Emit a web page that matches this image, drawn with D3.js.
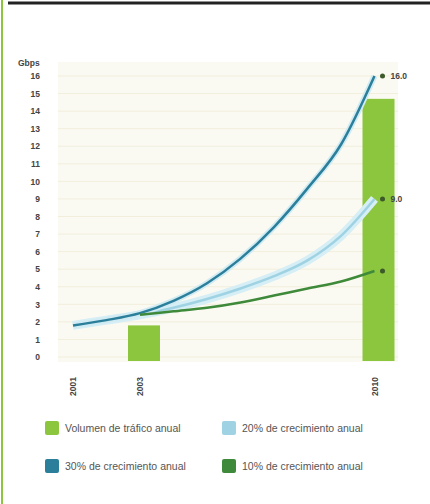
<!DOCTYPE html>
<html><head><meta charset="utf-8">
<script src="https://cdn.jsdelivr.net/npm/d3@7"></script>
<style>body{margin:0;background:#fff;}svg{display:block;font-family:"Liberation Sans",Arial,sans-serif;}</style>
</head><body>
<script>
const yTicks = [0,1,2,3,4,5,6,7,8,9,10,11,12,13,14,15,16];
const xYears = [2001, 2003, 2010];
const barYears = [2003, 2010];
const barValues = [1.8, 14.7];
const years30 = [2001,2002,2003,2004,2005,2006,2007,2008,2009,2010];
const values30 = [1.8,2.1,2.5,3.2,4.2,5.6,7.4,9.6,12.1,16.0];
const years20 = [2001,2002,2003,2004,2005,2006,2007,2008,2009,2010];
const values20 = [1.8,2.1,2.4,2.8,3.3,3.9,4.6,5.5,6.9,9.0];
const years10 = [2003,2004,2005,2006,2007,2008,2009,2010];
const values10 = [2.4,2.6,2.8,3.1,3.5,3.9,4.3,4.9];
const endLabels = ["16.0","9.0",""];
const legendLabels = ["Volumen de tráfico anual","20% de crecimiento anual","30% de crecimiento anual","10% de crecimiento anual"];
const unitLabel = "Gbps";

const colBar="#8cc63f", colLight="#9fd3e3", colTeal="#2b7f9a", colGreen="#3f8a3a";

const W=430,H=504;
const svg=d3.select("body").append("svg").attr("width",W).attr("height",H);
svg.append("line").attr("x1",8).attr("x2",430).attr("y1",3).attr("y2",3).attr("stroke","#222").attr("stroke-width",3);
svg.append("line").attr("x1",2).attr("x2",2).attr("y1",0).attr("y2",504).attr("stroke","#8cc63f").attr("stroke-width",2);

const x=d3.scaleLinear().domain([2001,2003]).range([73,140]);
const y=d3.scaleLinear().domain([0,16]).range([357,76]);

svg.append("rect").attr("x",58).attr("y",62).attr("width",340).attr("height",300).attr("fill","#fbfaf2");
svg.append("g").selectAll("line").data(yTicks).join("line")
 .attr("x1",58).attr("x2",398).attr("y1",d=>y(d)).attr("y2",d=>y(d)).attr("stroke","#f1eedc").attr("stroke-width",1);

const ya=d3.axisLeft(y).tickValues(yTicks).tickSize(0).tickPadding(4);
const yg=svg.append("g").attr("transform","translate(44,0)").call(ya);
yg.select(".domain").remove();
yg.selectAll("text").attr("font-size",8.5).attr("font-weight","bold").attr("fill","#444");
svg.append("text").attr("x",18).attr("y",66).attr("font-size",8.5).attr("font-weight","bold").attr("fill","#444").text(unitLabel);

const bw=32;
svg.append("g").selectAll("rect").data(barYears).join("rect")
 .attr("x",(d)=>x(d)-bw/2+4).attr("width",bw)
 .attr("y",(d,i)=>y(barValues[i])).attr("height",(d,i)=>y(0)+4-y(barValues[i])).attr("fill",colBar);

const line=d3.line().x(d=>x(d[0])).y(d=>y(d[1])).curve(d3.curveMonotoneX);
const d20=years20.map((v,i)=>[v,values20[i]]);
const d30=years30.map((v,i)=>[v,values30[i]]);
const d10=years10.map((v,i)=>[v,values10[i]]);
svg.append("path").attr("d",line(d20)).attr("fill","none").attr("stroke","#d6eef5").attr("stroke-width",9);
svg.append("path").attr("d",line(d20)).attr("fill","none").attr("stroke",colLight).attr("stroke-width",2.5);
svg.append("path").attr("d",line(d30)).attr("fill","none").attr("stroke","#d0ebf3").attr("stroke-width",6);
svg.append("path").attr("d",line(d30)).attr("fill","none").attr("stroke",colTeal).attr("stroke-width",2.5);
svg.append("path").attr("d",line(d10)).attr("fill","none").attr("stroke",colGreen).attr("stroke-width",2.5);

const ends=[d30[d30.length-1],d20[d20.length-1],d10[d10.length-1]];
svg.append("g").selectAll("circle").data(ends).join("circle")
 .attr("cx",d=>x(d[0])+8).attr("cy",d=>y(d[1])).attr("r",2.5).attr("fill","#3d5a2a");
svg.append("g").selectAll("text").data(ends).join("text")
 .attr("x",d=>x(d[0])+16).attr("y",d=>y(d[1])+3).attr("font-size",8.5).attr("font-weight","bold").attr("fill","#444")
 .text((d,i)=>endLabels[i]);

svg.append("g").selectAll("text").data(xYears).join("text")
 .attr("transform",d=>`translate(${x(d)+3},${396}) rotate(-90)`)
 .attr("font-size",8.5).attr("font-weight","bold").attr("fill","#444").text(d=>d);

const leg=[{c:colBar,x:45,y:421},{c:colLight,x:222,y:421},{c:colTeal,x:45,y:459},{c:colGreen,x:222,y:459}];
const lg=svg.append("g").selectAll("g").data(leg).join("g").attr("transform",d=>`translate(${d.x},${d.y})`);
lg.append("rect").attr("width",14).attr("height",14).attr("rx",2).attr("fill",d=>d.c);
lg.append("text").attr("x",20).attr("y",11).attr("font-size",10.5).attr("fill","#555").text((d,i)=>legendLabels[i]);
</script>
</body></html>
